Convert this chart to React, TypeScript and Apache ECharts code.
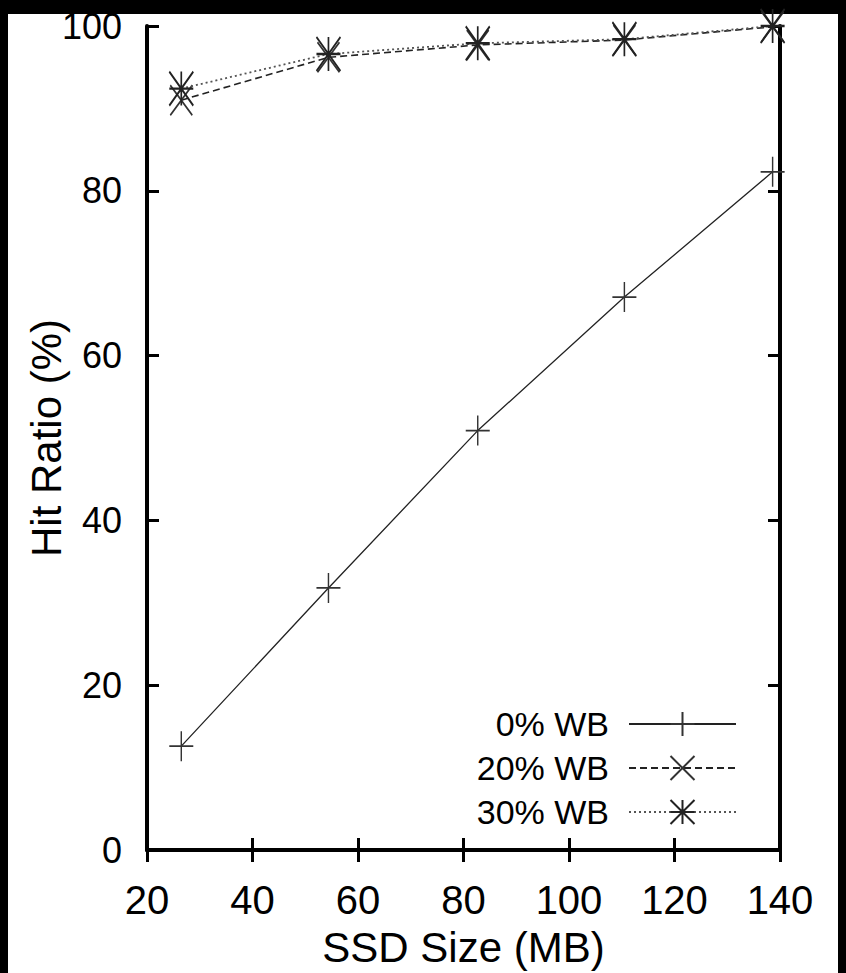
import React, { useEffect, useRef } from "react";
import * as echarts from "echarts";

const ssdSize = [26.5, 54.4, 82.7, 110.5, 138.6];
const wb0 = [12.6, 31.8, 50.9, 67.1, 82.3];
const wb20 = [91.0, 96.2, 97.7, 98.3, 99.9];
const wb30 = [92.4, 96.6, 97.9, 98.4, 100];
const seriesNames = ["0% WB", "20% WB", "30% WB"];

const PLUS = "path://M0,-1L0,1M-1,0L1,0";
const CROSS = "path://M-1,-1L1,1M-1,1L1,-1";
const STAR = "path://M0,-1L0,1M-1,0L1,0M-1,-1L1,1M-1,1L1,-1";

const FONT = "'Liberation Sans', Arial, Helvetica, sans-serif";

function pairs(xs: number[], ys: number[]) {
  return xs.map((x, i) => [x, ys[i]]);
}

export default function App() {
  const ref = useRef<HTMLDivElement>(null);
  useEffect(() => {
    if (!ref.current) return;
    const chart = echarts.init(ref.current, null, { renderer: "svg" });
    const axisLine = { show: true, lineStyle: { color: "#000", width: 4 } };
    const axisTick = { show: true, inside: true, length: 12, lineStyle: { color: "#000", width: 3 } };
    chart.setOption({
      animation: false,
      backgroundColor: "#000",
      graphic: [
        {
          type: "rect",
          z: -10,
          silent: true,
          shape: { x: 8, y: 14, width: 830, height: 960 },
          style: { fill: "#fff" },
        },
      ],
      grid: { left: 147, right: 66, top: 26, bottom: 120, containLabel: false },
      legend: {
        orient: "vertical",
        align: "right",
        right: 104,
        top: 702,
        itemWidth: 107,
        itemHeight: 30,
        itemGap: 10,
        data: seriesNames,
        textStyle: {
          fontFamily: FONT,
          fontSize: 34,
          color: "#000",
          padding: [0, 15, 0, 0],
        },
      },
      xAxis: [
        {
          type: "value",
          position: "bottom",
          min: 20,
          max: 140,
          interval: 20,
          name: "SSD Size (MB)",
          nameLocation: "middle",
          nameGap: 76,
          nameMoveOverlap: false,
          nameTextStyle: { fontFamily: FONT, fontSize: 42, color: "#000" },
          axisLine,
          axisTick,
          splitLine: { show: false },
          axisLabel: { margin: 30, fontFamily: FONT, fontSize: 40, color: "#000" },
        },
        {
          type: "value",
          position: "top",
          min: 20,
          max: 140,
          interval: 20,
          axisLine,
          axisTick,
          splitLine: { show: false },
          axisLabel: { show: false },
        },
      ],
      yAxis: [
        {
          type: "value",
          position: "left",
          min: 0,
          max: 100,
          interval: 20,
          name: "Hit Ratio (%)",
          nameLocation: "middle",
          nameGap: 80,
          nameMoveOverlap: false,
          nameTextStyle: { fontFamily: FONT, fontSize: 42, color: "#000" },
          axisLine,
          axisTick,
          splitLine: { show: false },
          axisLabel: { margin: 25, fontFamily: FONT, fontSize: 36, color: "#000" },
        },
        {
          type: "value",
          position: "right",
          min: 0,
          max: 100,
          interval: 20,
          axisLine,
          axisTick,
          splitLine: { show: false },
          axisLabel: { show: false },
        },
      ],
      series: [
        {
          name: seriesNames[0],
          type: "line",
          data: pairs(ssdSize, wb0),
          clip: false,
          symbol: PLUS,
          symbolSize: [24, 30],
          showAllSymbol: true,
          lineStyle: { color: "#222", width: 1.3, type: "solid" },
          itemStyle: { color: "transparent", borderColor: "#333", borderWidth: 1.6 },
          z: 3,
        },
        {
          name: seriesNames[1],
          type: "line",
          data: pairs(ssdSize, wb20),
          clip: false,
          symbol: CROSS,
          symbolSize: [22, 30],
          lineStyle: { color: "#222", width: 1.6, type: [7, 4] },
          itemStyle: { color: "transparent", borderColor: "#333", borderWidth: 1.8 },
          z: 4,
        },
        {
          name: seriesNames[2],
          type: "line",
          data: pairs(ssdSize, wb30),
          clip: false,
          symbol: STAR,
          symbolSize: [24, 34],
          lineStyle: { color: "#555", width: 1.8, type: [2, 3] },
          itemStyle: { color: "transparent", borderColor: "#222", borderWidth: 2 },
          z: 5,
        },
      ],
    });
    return () => chart.dispose();
  }, []);
  return (
    <div
      ref={ref}
      style={{ position: "absolute", left: 0, top: 0, width: 846, height: 973 }}
    />
  );
}
